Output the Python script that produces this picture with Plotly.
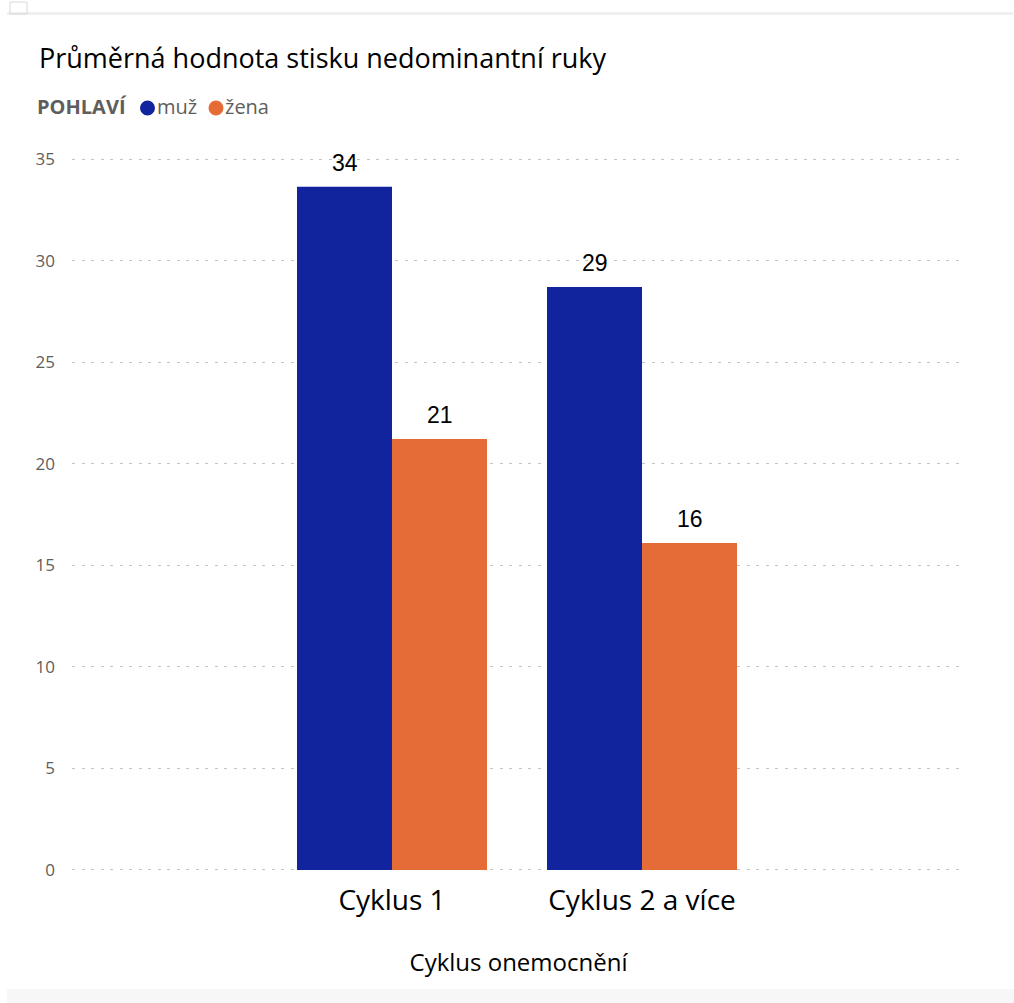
import plotly.graph_objects as go

# Average non-dominant hand grip strength by disease cycle and sex
categories = ["Cyklus 1", "Cyklus 2 a více"]
muz = [33.63, 28.7]
zena = [21.22, 16.1]
series_names = ["muž", "žena"]
y_ticks = [0, 5, 10, 15, 20, 25, 30, 35]

BLUE = "#12239E"
ORANGE = "#E66C37"
GRID = "#c4c4c4"
LEGEND_GREY = "#605E5C"

W, H = 1014, 1003
L, R, T, B = 72, 49, 158, 132
PW, PH = W - L - R, H - T - B
Y_RANGE = [-0.05, 35.05]


def px_x(px):
    return (px - L) / PW


def px_y(py):
    return (H - B - py) / PH


fig = go.Figure()
for name, vals, col in [(series_names[0], muz, BLUE), (series_names[1], zena, ORANGE)]:
    fig.add_trace(go.Bar(
        x=categories, y=vals, name=name,
        marker=dict(color=col, line=dict(width=0)),
        showlegend=False, hoverinfo="x+y+name",
    ))

# value labels above bars
ann = []
for vals, shift in [(muz, -47.5), (zena, 47.5)]:
    for c, v in zip(categories, vals):
        ann.append(dict(
            x=c, y=v, xref="x", yref="y", xshift=shift, yshift=9,
            text=f"{v:.0f}", showarrow=False, yanchor="bottom",
            font=dict(family="Liberation Sans, Arial", size=23, color="#000000"),
        ))

# chart title
ann.append(dict(
    x=px_x(37), y=px_y(57), xref="paper", yref="paper", xanchor="left", yanchor="middle",
    text="Průměrná hodnota stisku nedominantní ruky", showarrow=False,
    font=dict(family="Open Sans", size=27, color="#000000"),
))

# legend row: header, swatches and series names
LEG_Y = px_y(107)
legend_font = dict(family="Open Sans", size=20, color=LEGEND_GREY)
ann.append(dict(x=px_x(35), y=LEG_Y, xref="paper", yref="paper", xanchor="left", yanchor="middle",
                text="<b>POHLAVÍ</b>", showarrow=False, font=legend_font))
ann.append(dict(x=px_x(155), y=LEG_Y, xref="paper", yref="paper", xanchor="left", yanchor="middle",
                text=series_names[0], showarrow=False, font=legend_font))
ann.append(dict(x=px_x(223), y=LEG_Y, xref="paper", yref="paper", xanchor="left", yanchor="middle",
                text=series_names[1], showarrow=False, font=legend_font))

shapes = [
    dict(type="rect", xref="paper", yref="paper",
         x0=px_x(7), x1=px_x(1013), y0=px_y(15), y1=px_y(12),
         fillcolor="#f0f0f0", line=dict(width=0), layer="below"),
    dict(type="rect", xref="paper", yref="paper",
         x0=px_x(7), x1=px_x(1014), y0=px_y(1003), y1=px_y(989),
         fillcolor="#f7f7f7", line=dict(width=0), layer="below"),
    dict(type="rect", xref="paper", yref="paper",
         x0=px_x(10), x1=px_x(27), y0=px_y(14), y1=px_y(2),
         fillcolor="rgba(0,0,0,0)", line=dict(width=1, color="#d8d8d8"), layer="below"),
]
for cx, col in [(147.5, BLUE), (216, ORANGE)]:
    shapes.append(dict(
        type="circle", xref="paper", yref="paper",
        xsizemode="pixel", ysizemode="pixel",
        xanchor=px_x(cx), yanchor=px_y(108),
        x0=-7.5, x1=7.5, y0=-7.5, y1=7.5,
        fillcolor=col, line=dict(width=0),
    ))

fig.update_layout(
    width=W, height=H,
    margin=dict(l=L, r=R, t=T, b=B, pad=0),
    paper_bgcolor="#ffffff", plot_bgcolor="#ffffff",
    barmode="group", bargap=0.24, bargroupgap=0,
    annotations=ann, shapes=shapes,
    xaxis=dict(
        type="category", range=[-1.28, 2.292],
        showgrid=False, zeroline=False, showline=False, ticks="",
        ticklabelstandoff=10,
        tickfont=dict(family="Open Sans", size=28, color="#000000"),
        title=dict(text="Cyklus onemocnění", standoff=37,
                   font=dict(family="Open Sans", size=24, color="#000000")),
    ),
    yaxis=dict(
        range=Y_RANGE, tickvals=y_ticks, ticktext=[str(t) for t in y_ticks],
        showgrid=True, gridcolor=GRID, griddash="3px,6.5px", gridwidth=1,
        zeroline=False, showline=False, ticks="",
        ticklabelstandoff=16,
        tickfont=dict(family="Open Sans", size=17, color="#605E5C"),
    ),
    font=dict(family="Open Sans"),
)

fig.write_html("out.html")
